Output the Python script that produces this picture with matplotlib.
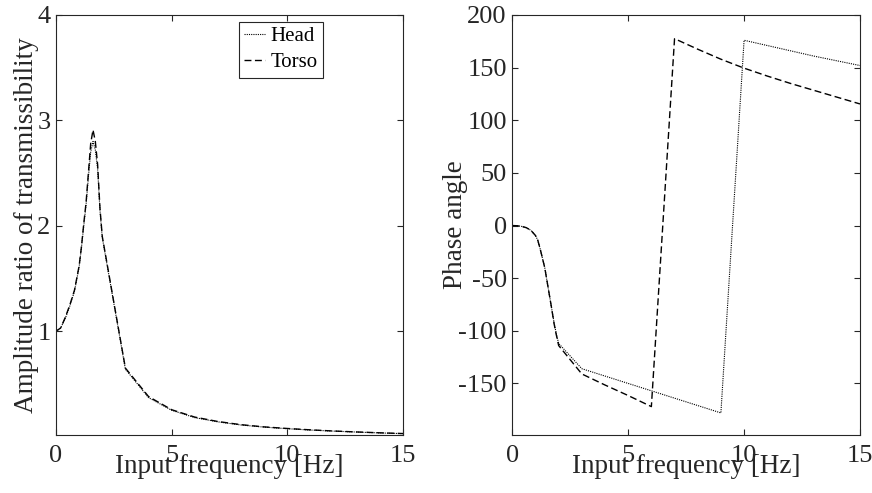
import numpy as np
import matplotlib
matplotlib.use('Agg')
import matplotlib.pyplot as plt

plt.rcParams['font.family'] = ['Liberation Serif', 'DejaVu Serif']
plt.rcParams['axes.unicode_minus'] = False

# frequency grid [Hz]: fine below 2 Hz, integer steps above
freq = [0, 0.2, 0.4, 0.6, 0.8, 1.0, 1.1, 1.2, 1.3, 1.4, 1.5, 1.6, 1.7, 1.8, 1.9, 2.0,
        3, 4, 5, 6, 7, 8, 9, 10, 11, 12, 13, 14, 15]

# amplitude ratio of transmissibility
amp_head = [1.00, 1.03, 1.12, 1.24, 1.38, 1.61, 1.79, 2.00, 2.20, 2.46, 2.70, 2.80, 2.72, 2.54, 2.15, 1.89,
            0.64, 0.37, 0.25, 0.18, 0.14, 0.11, 0.09, 0.075, 0.062, 0.052, 0.043, 0.035, 0.028]
amp_torso = [1.00, 1.03, 1.13, 1.25, 1.39, 1.62, 1.80, 2.02, 2.22, 2.50, 2.78, 2.91, 2.80, 2.58, 2.17, 1.90,
             0.65, 0.38, 0.255, 0.185, 0.143, 0.113, 0.092, 0.077, 0.064, 0.053, 0.044, 0.036, 0.029]

# phase angle [deg]
phase_head = [0, -0.2, -0.8, -2.0, -4.5, -9.5, -14, -22, -31, -40, -53, -66, -79, -92, -103, -112,
              -136, -143, -150, -157, -164, -171, -178, 176, 171, 166, 161, 156.5, 152]
phase_torso = [0, -0.2, -0.8, -2.0, -4.5, -9.5, -14, -22, -31, -40, -53, -66, -79, -93, -104, -114,
               -141, -151.5, -161.5, -172, 177.5, 167.5, 158, 149.5, 142, 135, 128.5, 122, 115.5]

fig = plt.figure(figsize=(8.72, 4.93), dpi=100)
ax1 = fig.add_axes([0.0642, 0.1176, 0.398, 0.852])
ax2 = fig.add_axes([0.5875, 0.1176, 0.3987, 0.852])

head_style = dict(color='black', lw=0.8, linestyle=(0, (1, 1)))
torso_style = dict(color='black', lw=1.0, linestyle=(0, (5, 2.5)))

ax1.plot(freq, amp_head, label='Head', **head_style)
ax1.plot(freq, amp_torso, label='Torso', **torso_style)
ax2.plot(freq, phase_head, **head_style)
ax2.plot(freq, phase_torso, **torso_style)

ax1.set_xlim(0, 15)
ax1.set_ylim(0.015, 4)
ax1.set_yticks([1, 2, 3, 4])
ax2.set_xlim(0, 15)
ax2.set_ylim(-199, 200)
ax2.set_yticks([-150, -100, -50, 0, 50, 100, 150, 200])

for ax in (ax1, ax2):
    ax.set_xticks([0, 5, 10, 15])
    ax.tick_params(direction='in', top=True, right=True, length=4, width=0.8,
                   labelsize=19, colors='0.15')
    ax.tick_params(axis='x', pad=7)
    ax.tick_params(axis='y', pad=4)
    for sp in ax.spines.values():
        sp.set_color('0.15')
        sp.set_linewidth(0.8)
    ax.set_xlabel('Input frequency [Hz]', fontsize=19.5, color='0.15', labelpad=-9)

ax1.set_ylabel('Amplitude ratio of transmissibility', fontsize=19.5, color='0.15', labelpad=-1)
ax2.set_ylabel('Phase angle', fontsize=19.5, color='0.15', labelpad=-7)

leg = ax1.legend(loc='upper center', bbox_to_anchor=(0.648, 0.984), fontsize=15,
                 handlelength=1.0, handletextpad=0.3, labelspacing=0.3,
                 borderpad=0.25, borderaxespad=0, fancybox=False, framealpha=1)
leg.get_frame().set_edgecolor('0.15')
leg.get_frame().set_linewidth(0.8)

fig.savefig('out.png', dpi=100)
